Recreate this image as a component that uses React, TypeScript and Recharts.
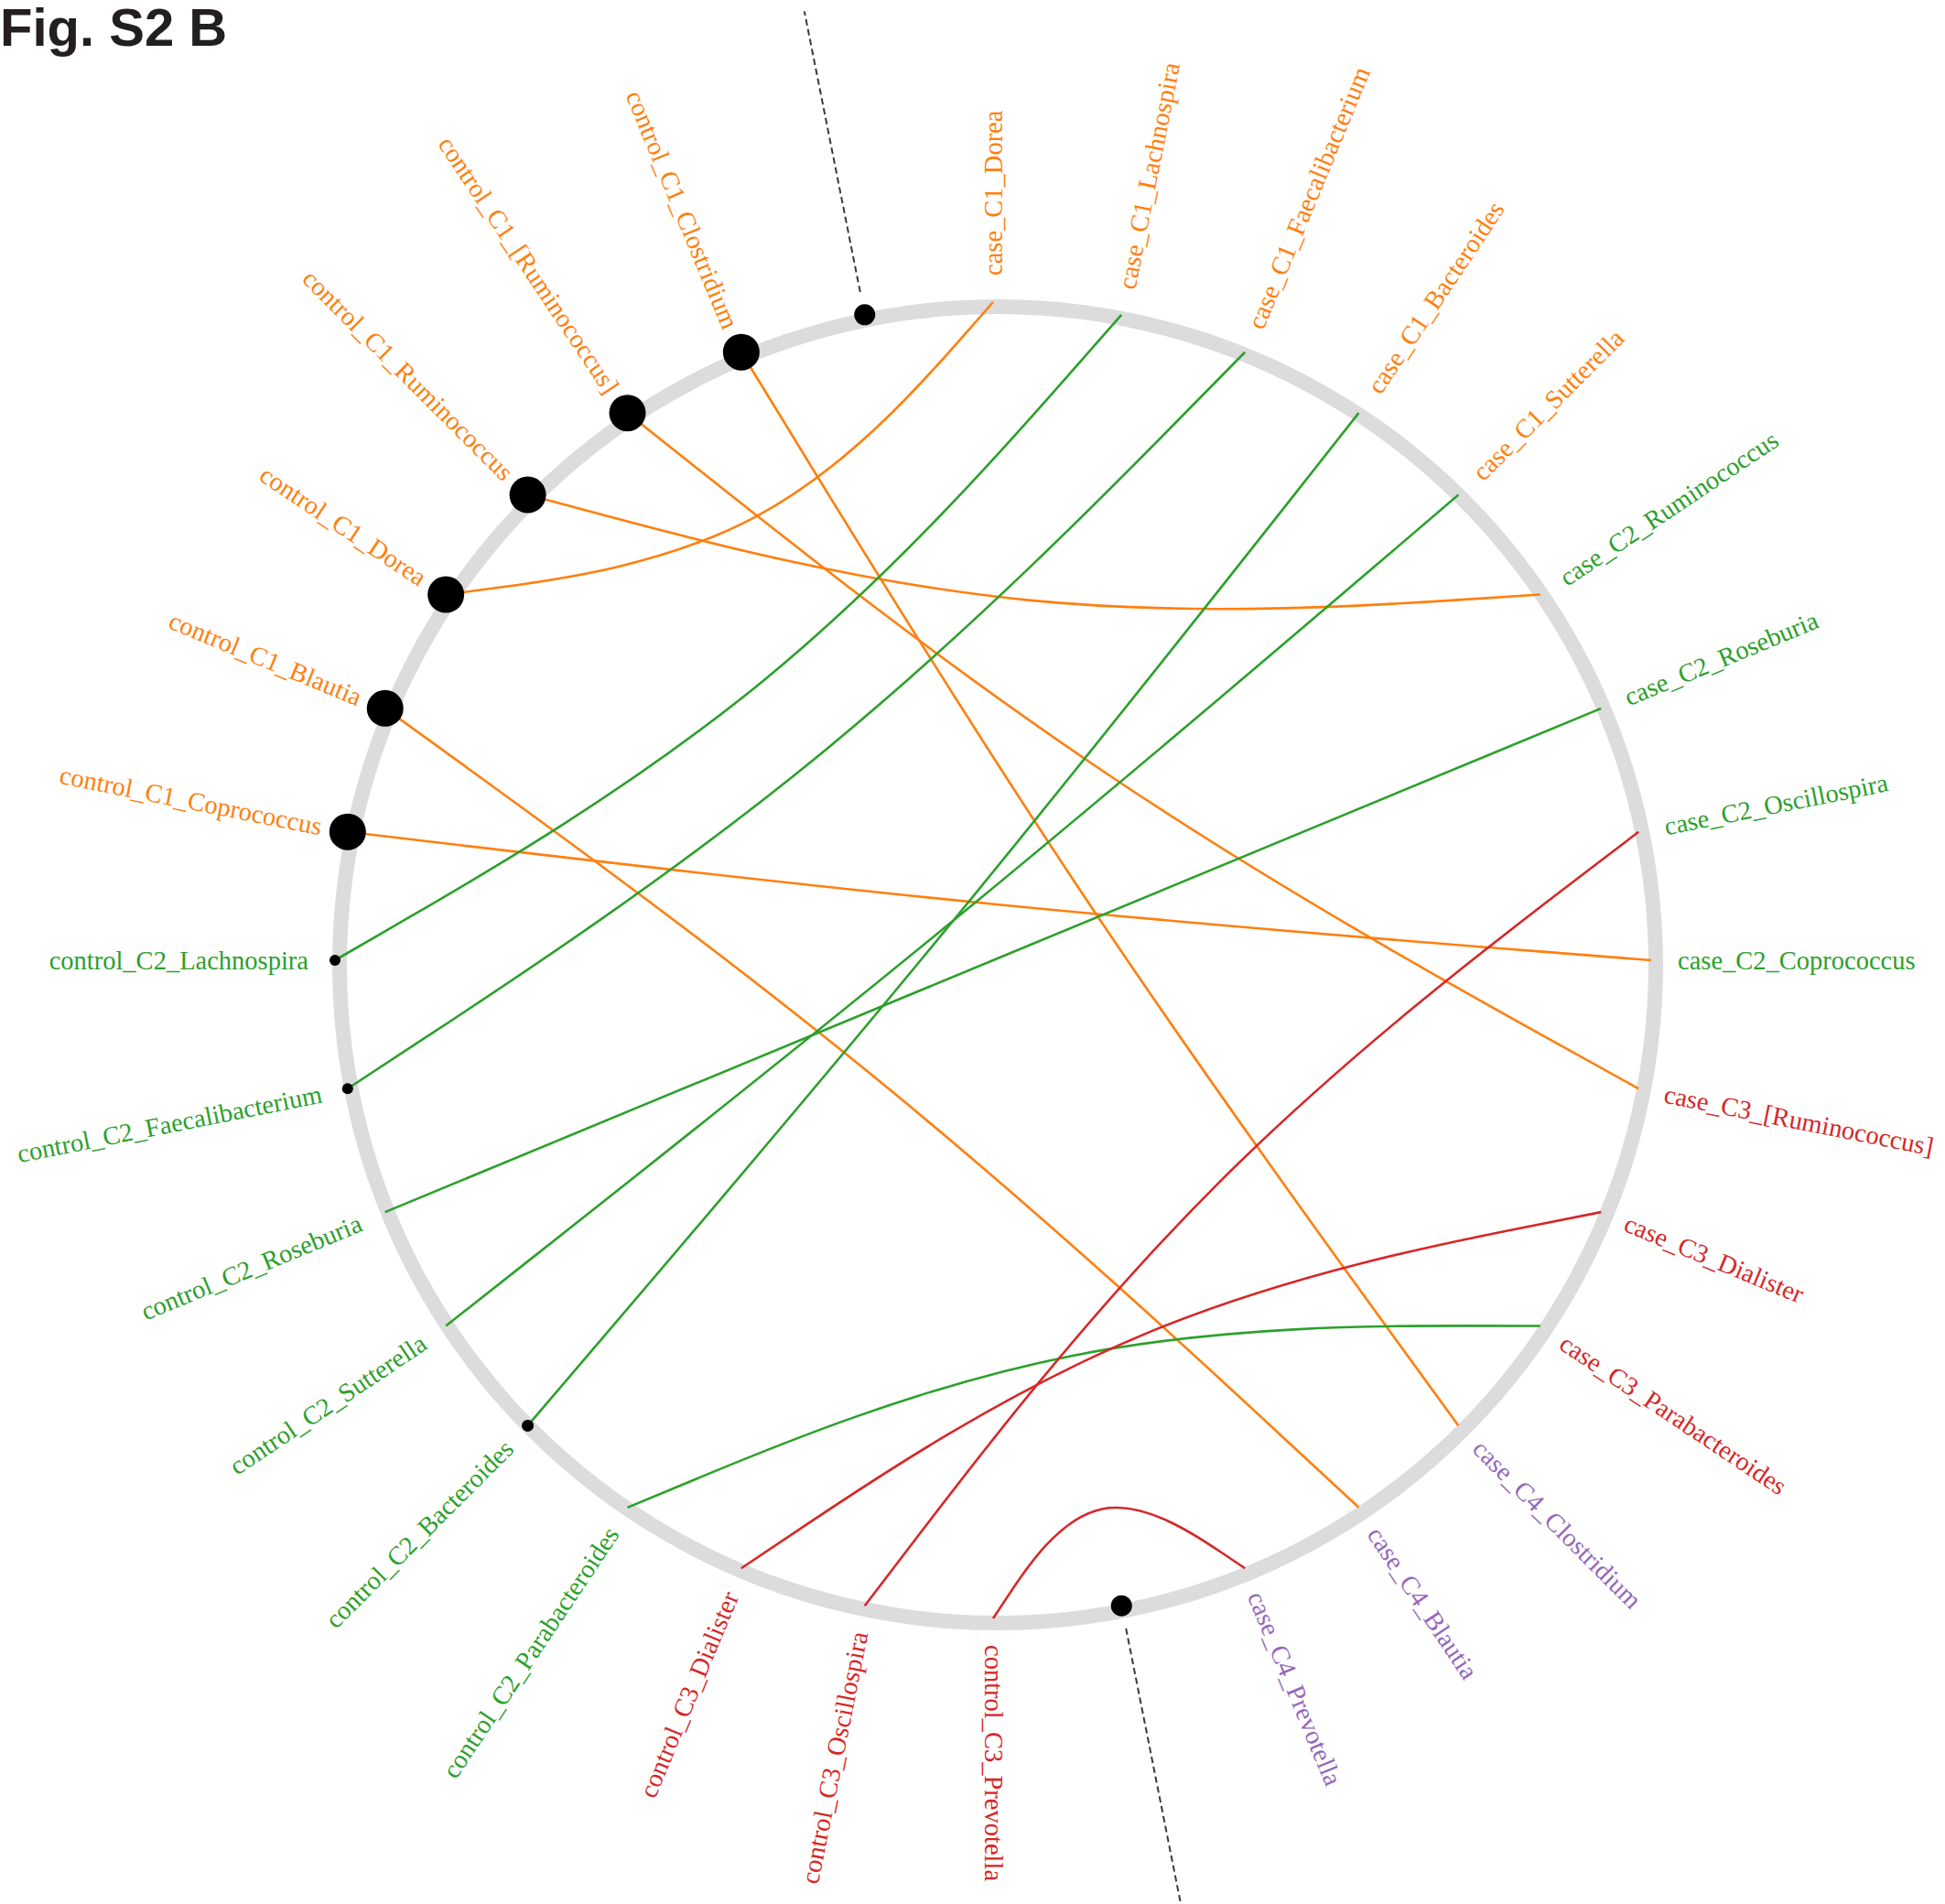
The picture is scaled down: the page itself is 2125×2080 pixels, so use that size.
import React from 'react';
import { ComposedChart, Line, Scatter, XAxis, YAxis, PieChart, Pie, Cell } from 'recharts';

// nodes clockwise from 12 o'clock, '' marks the two group dividers
const NODE_ORDER = [
  'case_C1_Dorea', 'case_C1_Lachnospira', 'case_C1_Faecalibacterium', 'case_C1_Bacteroides', 'case_C1_Sutterella',
  'case_C2_Ruminococcus', 'case_C2_Roseburia', 'case_C2_Oscillospira', 'case_C2_Coprococcus',
  'case_C3_[Ruminococcus]', 'case_C3_Dialister', 'case_C3_Parabacteroides',
  'case_C4_Clostridium', 'case_C4_Blautia', 'case_C4_Prevotella',
  '',
  'control_C3_Prevotella', 'control_C3_Oscillospira', 'control_C3_Dialister',
  'control_C2_Parabacteroides', 'control_C2_Bacteroides', 'control_C2_Sutterella', 'control_C2_Roseburia',
  'control_C2_Faecalibacterium', 'control_C2_Lachnospira',
  'control_C1_Coprococcus', 'control_C1_Blautia', 'control_C1_Dorea', 'control_C1_Ruminococcus',
  'control_C1_[Ruminococcus]', 'control_C1_Clostridium',
  '',
];

// black dot radius on each node (0 = no dot)
const NODE_DOT = [
  0, 0, 0, 0, 0,
  0, 0, 0, 0,
  0, 0, 0,
  0, 0, 0,
  11.5,
  0, 0, 0,
  0, 6.5, 0, 0,
  6, 6,
  20, 20, 20, 20,
  20, 20,
  11.5,
];

const LINK_FROM = [
  'control_C1_Clostridium', 'control_C1_[Ruminococcus]', 'control_C1_Ruminococcus', 'control_C1_Dorea',
  'control_C1_Blautia', 'control_C1_Coprococcus',
  'control_C2_Lachnospira', 'control_C2_Faecalibacterium', 'control_C2_Roseburia', 'control_C2_Sutterella',
  'control_C2_Bacteroides', 'control_C2_Parabacteroides',
  'control_C3_Dialister', 'control_C3_Oscillospira', 'control_C3_Prevotella',
];
const LINK_TO = [
  'case_C4_Clostridium', 'case_C3_[Ruminococcus]', 'case_C2_Ruminococcus', 'case_C1_Dorea',
  'case_C4_Blautia', 'case_C2_Coprococcus',
  'case_C1_Lachnospira', 'case_C1_Faecalibacterium', 'case_C2_Roseburia', 'case_C1_Sutterella',
  'case_C1_Bacteroides', 'case_C3_Parabacteroides',
  'case_C3_Dialister', 'case_C2_Oscillospira', 'case_C4_Prevotella',
];

const GROUP_COLORS: Record<string, string> = {
  C1: '#ff7f0e',
  C2: '#2ca02c',
  C3: '#d62728',
  C4: '#9467bd',
};

const W = 2125;
const H = 2080;
const CX = 1085;
const CY = 1049;
const R = 719; // ring radius in px
const PULL = 0.2; // how far link midpoints bend towards the centre
const LABEL_GAP = 29;

const step = 360 / NODE_ORDER.length;

const nodes = NODE_ORDER.map((name, i) => {
  const deg = i * step;
  const rad = (deg * Math.PI) / 180;
  return {
    name,
    deg,
    x: Math.sin(rad),
    y: Math.cos(rad),
    dot: NODE_DOT[i],
    group: name ? name.split('_')[1] : '',
  };
});

const byName = (n: string) => nodes.find((d) => d.name === n)!;

const links = LINK_FROM.map((from, i) => {
  const a = byName(from);
  const b = byName(LINK_TO[i]);
  const mx = ((a.x + b.x) / 2) * (1 - PULL);
  const my = ((a.y + b.y) / 2) * (1 - PULL);
  return {
    key: `${from}-${LINK_TO[i]}`,
    color: GROUP_COLORS[a.group],
    points: [{ x: a.x, y: a.y }, { x: mx, y: my }, { x: b.x, y: b.y }],
  };
});

const dividers = nodes
  .filter((d) => !d.name)
  .map((d) => ({
    key: `div-${d.deg}`,
    points: [
      { x: d.x * 1.035, y: d.y * 1.035 },
      { x: d.x * 1.47, y: d.y * 1.47 },
    ],
  }));

const NodeMark = (props: any) => {
  const { cx, cy, payload } = props;
  const rad = (payload.deg * Math.PI) / 180;
  const lx = cx + Math.sin(rad) * LABEL_GAP;
  const ly = cy - Math.cos(rad) * LABEL_GAP;
  const flip = payload.deg > 180;
  const rot = flip ? payload.deg + 90 : payload.deg - 90;
  return (
    <g>
      {payload.dot > 0 && <circle cx={cx} cy={cy} r={payload.dot} fill="#000" />}
      {payload.name && (
        <text
          x={lx}
          y={ly}
          transform={`rotate(${rot} ${lx} ${ly})`}
          textAnchor={flip ? 'end' : 'start'}
          dominantBaseline="central"
          fill={GROUP_COLORS[payload.group]}
          fontFamily="'Liberation Serif', 'Times New Roman', serif"
          fontSize={28.5}
        >
          {payload.name}
        </text>
      )}
    </g>
  );
};

export default function App() {
  return (
    <div style={{ position: 'absolute', left: 0, top: 0, width: W, height: H, background: '#fff' }}>
      <div style={{ position: 'absolute', left: 0, top: 0 }}>
        <PieChart width={W} height={H}>
          <Pie
            data={[{ name: 'ring', value: 1 }]}
            dataKey="value"
            cx={CX}
            cy={CY}
            innerRadius={R - 8}
            outerRadius={R + 8}
            startAngle={90}
            endAngle={-270}
            stroke="none"
            isAnimationActive={false}
          >
            <Cell fill="#dcdcdc" />
          </Pie>
        </PieChart>
      </div>
      <div style={{ position: 'absolute', left: 0, top: 0 }}>
        <ComposedChart width={W} height={H} margin={{ top: 0, right: 0, bottom: 0, left: 0 }}>
          <XAxis type="number" dataKey="x" domain={[-CX / R, (W - CX) / R]} allowDataOverflow hide />
          <YAxis type="number" dataKey="y" domain={[-(H - CY) / R, CY / R]} allowDataOverflow hide />
          {links.map((l) => (
            <Line
              key={l.key}
              data={l.points}
              dataKey="y"
              type="basis"
              stroke={l.color}
              strokeWidth={2.6}
              dot={false}
              activeDot={false}
              isAnimationActive={false}
            />
          ))}
          {dividers.map((d) => (
            <Line
              key={d.key}
              data={d.points}
              dataKey="y"
              type="linear"
              stroke="#3a3a3a"
              strokeWidth={2}
              strokeDasharray="7 4"
              dot={false}
              activeDot={false}
              isAnimationActive={false}
            />
          ))}
          <Scatter data={nodes} shape={NodeMark} isAnimationActive={false} />
        </ComposedChart>
      </div>
      <div
        style={{
          position: 'absolute',
          left: 0,
          top: 1,
          fontFamily: "'Liberation Sans', Arial, sans-serif",
          fontWeight: 'bold',
          fontSize: 58,
          lineHeight: 1,
          color: '#231f20',
          whiteSpace: 'nowrap',
        }}
      >
        Fig. S2 B
      </div>
    </div>
  );
}
